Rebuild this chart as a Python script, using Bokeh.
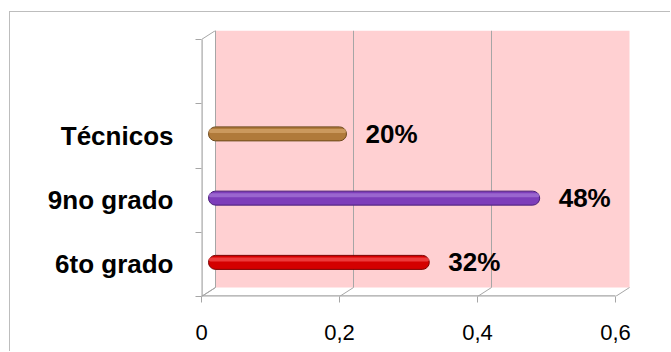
from bokeh.plotting import figure
from bokeh.models import ColumnDataSource, FixedTicker, Range1d
from bokeh.core.properties import value
from bokeh.embed import file_html
from bokeh.resources import INLINE

# ---- data ----
categories = ["6to grado", "9no grado", "Técnicos"]
shares = [0.32, 0.48, 0.20]
bar_colors = ["#D40000", "#7D3DBA", "#B07A3A"]
bar_edges = ["#7A0000", "#4A1F78", "#6E4A1E"]
bar_highlights = ["#FF6A6A", "#B389E0", "#E2B27A"]
x_ticks = [0, 0.2, 0.4, 0.6]
x_tick_labels = ["0", "0,2", "0,4", "0,6"]

# ---- geometry (pixels per data unit, pseudo-3D depth) ----
PX_X = 690.0          # pixels per unit of share
PX_Y = 64.25          # pixels per category slot
N_SLOTS = 4           # three bars plus one empty slot on top
DEPTH_X = 14 / PX_X   # back wall offset to the right
DEPTH_Y = 9 / PX_Y    # back wall offset upwards

# canvas sits inside a bordered box offset from the page corner
W, H = 661, 340
frame_l, frame_r, frame_t, frame_b = 191, 622, 18, 284

p = figure(width=W, height=H, output_backend="svg", toolbar_location=None,
           x_range=Range1d(0, (frame_r - frame_l) / PX_X),
           y_range=Range1d(0, (frame_b - frame_t) / PX_Y),
           min_border_left=frame_l, min_border_right=W - frame_r,
           min_border_top=frame_t, min_border_bottom=H - frame_b)
p.margin = (11, 0, 0, 9)
p.styles = {"border-top": "1px solid #BDBDBD", "border-left": "1px solid #BDBDBD"}
p.outline_line_color = None
p.grid.visible = False
p.background_fill_color = "white"
p.border_fill_color = "white"

grey = "#A6A6A6"
xmax = x_ticks[-1]

# back wall
p.quad(left=DEPTH_X, right=xmax + DEPTH_X, bottom=DEPTH_Y, top=N_SLOTS + DEPTH_Y,
       fill_color="#FFD0D2", line_color=None)
# vertical gridlines on the back wall
p.segment(x0=[t + DEPTH_X for t in x_ticks[1:-1]], y0=[DEPTH_Y] * 2,
          x1=[t + DEPTH_X for t in x_ticks[1:-1]], y1=[N_SLOTS + DEPTH_Y] * 2,
          line_color=grey, line_width=1)
# floor diagonals from each front tick to the back wall
p.segment(x0=x_ticks, y0=[0] * len(x_ticks),
          x1=[t + DEPTH_X for t in x_ticks], y1=[DEPTH_Y] * len(x_ticks),
          line_color=grey, line_width=1)
# left side wall: back edge and diagonals
p.segment(x0=[DEPTH_X, 0, 0], y0=[DEPTH_Y, N_SLOTS, 0],
          x1=[DEPTH_X, DEPTH_X, DEPTH_X], y1=[N_SLOTS + DEPTH_Y, N_SLOTS + DEPTH_Y, DEPTH_Y],
          line_color=grey, line_width=1)
# front axis lines (on the frame edge, so half the width is clipped)
p.segment(x0=[0, 0], y0=[0, 0], x1=[0, xmax], y1=[N_SLOTS, 0],
          line_color=grey, line_width=2.4)

# ---- tube bars ----
bar_dx = 7 / PX_X
bar_h = 14 / PX_Y
ys = [i + 0.5 + 2 / PX_Y for i in range(len(categories))]
src = ColumnDataSource(dict(
    y=ys, left=[bar_dx] * len(shares), right=[v + bar_dx for v in shares],
    color=bar_colors, edge=bar_edges, hi=bar_highlights,
    hi_y=[y + 3 / PX_Y for y in ys],
    label=[f"{round(v * 100)}%" for v in shares], xv=shares))
p.hbar(y="y", left="left", right="right", height=bar_h, fill_color="color",
       line_color="edge", line_width=1, border_radius=7, source=src)
p.hbar(y="hi_y", left="left", right="right", height=4 / PX_Y, fill_color="hi",
       fill_alpha=0.55, line_color=None, border_radius=2, source=src)
p.text(x="xv", y="y", text="label", x_offset=26, source=src,
       text_font=value("Liberation Sans"), text_font_style="bold",
       text_font_size="26px", text_baseline="middle", text_color="black")

# ---- axes ----
xa = p.xaxis[0]
xa.ticker = FixedTicker(ticks=x_ticks)
xa.major_label_overrides = dict(zip(x_ticks, x_tick_labels))
xa.axis_line_color = None
xa.major_tick_line_color = grey
xa.major_tick_out = 6
xa.major_tick_in = 0
xa.minor_tick_line_color = None
xa.major_label_standoff = 22
xa.major_label_text_font = "Liberation Sans"
xa.major_label_text_font_size = "22px"
xa.major_label_text_color = "black"

ya = p.yaxis[0]
ya.ticker = FixedTicker(ticks=[i + 0.5 for i in range(len(categories))],
                        minor_ticks=list(range(N_SLOTS + 1)))
ya.major_label_overrides = {i + 0.5: c for i, c in enumerate(categories)}
ya.axis_line_color = None
ya.major_tick_line_color = None
ya.major_tick_out = 0
ya.major_tick_in = 0
ya.minor_tick_line_color = grey
ya.minor_tick_out = 6
ya.minor_tick_in = 0
ya.major_label_standoff = 22
ya.major_label_text_font = "Liberation Sans"
ya.major_label_text_font_style = "bold"
ya.major_label_text_font_size = "26px"
ya.major_label_text_color = "black"

open("out.html", "w").write(file_html(p, INLINE))
